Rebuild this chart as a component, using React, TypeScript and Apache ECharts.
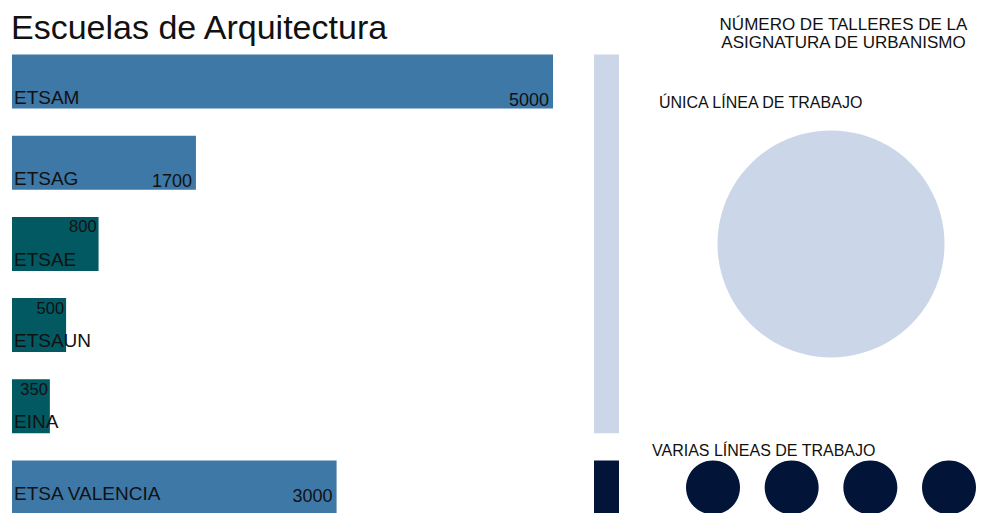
import React, { useEffect, useRef } from "react";
import * as echarts from "echarts";

// ---- data ----
const schools = ["ETSAM", "ETSAG", "ETSAE", "ETSAUN", "EINA", "ETSA VALENCIA"];
const students = [5000, 1700, 800, 500, 350, 3000];
const schoolTone = ["blue", "blue", "teal", "teal", "teal", "blue"];
const groupLabels = ["ÚNICA LÍNEA DE TRABAJO", "VARIAS LÍNEAS DE TRABAJO"];
const groupFirst = [0, 5];
const groupLast = [4, 5];
const groupTalleres = [1, 4];
const titleText = "Escuelas de Arquitectura";
const sideTitle = ["NÚMERO DE TALLERES DE LA", "ASIGNATURA DE URBANISMO"];

// ---- style ----
const BLUE = "#3e78a7";
const TEAL = "#025962";
const LIGHT = "#cbd7e8";
const NAVY = "#021539";
const FONT = "'Liberation Sans', Arial, Helvetica, sans-serif";
const groupColor = [LIGHT, NAVY];
const groupSymbolSize = [227, 54];
const labelLift = [0, 0, 0, 0, 0, 9];

export default function App() {
  const ref = useRef<HTMLDivElement>(null);
  useEffect(() => {
    if (!ref.current) return;
    const chart = echarts.init(ref.current, undefined, { renderer: "svg" });
    const maxT = Math.max(...groupTalleres);

    const barData = students.map((v, i) => ({
      value: v,
      itemStyle: { color: schoolTone[i] === "blue" ? BLUE : TEAL },
      label:
        schoolTone[i] === "blue"
          ? { position: "insideBottomRight", distance: 0, offset: [-4, -labelLift[i]], fontSize: 18 }
          : { position: "insideTopRight", distance: 1, offset: [-1, 0], fontSize: 16.5 },
    }));

    const nameData = students.map((v, i) => ({
      value: v,
      label: { offset: [0, -labelLift[i]] },
    }));

    const bracketData = groupFirst.map((f, g) => [0, f, groupLast[g], g]);

    const circleData: any[] = [];
    groupTalleres.forEach((t, g) => {
      const yMid = (groupFirst[g] + groupLast[g]) / 2;
      for (let k = 0; k < t; k++) {
        circleData.push({
          value: [(maxT - t) / 2 + k, yMid],
          symbolSize: groupSymbolSize[g],
          itemStyle: { color: groupColor[g], opacity: 1 },
        });
      }
    });

    const option: any = {
      animation: false,
      backgroundColor: "#ffffff",
      textStyle: { fontFamily: FONT },
      grid: [
        { left: 12, width: 541, top: 41, height: 487, outerBoundsMode: "none", containLabel: false },
        { left: 713, width: 236, top: 41, height: 487, outerBoundsMode: "none", containLabel: false },
      ],
      xAxis: [
        { type: "value", gridIndex: 0, min: 0, max: 5000, show: false },
        { type: "value", gridIndex: 1, min: 0, max: maxT - 1, show: false },
      ],
      yAxis: [
        { type: "category", gridIndex: 0, data: schools, inverse: true, show: false },
        { type: "category", gridIndex: 1, data: schools, inverse: true, show: false },
      ],
      series: [
        {
          type: "bar",
          name: "students",
          xAxisIndex: 0,
          yAxisIndex: 0,
          data: barData,
          barCategoryGap: "33.5%",
          barGap: "-100%",
          label: { show: true, formatter: "{c}", color: "#111", fontFamily: FONT },
          silent: true,
        },
        {
          type: "bar",
          name: "names",
          xAxisIndex: 0,
          yAxisIndex: 0,
          data: nameData,
          barCategoryGap: "33.5%",
          barGap: "-100%",
          itemStyle: { color: "rgba(0,0,0,0)" },
          label: {
            show: true,
            formatter: "{b}",
            position: "insideBottomLeft",
            distance: 2,
            color: "#111",
            fontSize: 19,
            fontFamily: FONT,
          },
          silent: true,
        },
        {
          type: "custom",
          name: "brackets",
          xAxisIndex: 0,
          yAxisIndex: 0,
          data: bracketData,
          encode: { x: 0, y: [1, 2] },
          renderItem: (params: any, api: any) => {
            const top = api.coord([0, api.value(1)]);
            const bot = api.coord([0, api.value(2)]);
            const band = api.size([0, 1])[1];
            const half = (band * 0.665) / 2;
            const cs = params.coordSys;
            const g = api.value(3);
            return {
              type: "rect",
              shape: { x: cs.x + cs.width + 41, y: top[1] - half, width: 25, height: bot[1] - top[1] + 2 * half },
              style: { fill: groupColor[g] },
            };
          },
          silent: true,
        },
        {
          type: "scatter",
          name: "talleres",
          xAxisIndex: 1,
          yAxisIndex: 1,
          symbol: "circle",
          data: circleData,
          itemStyle: { opacity: 1 },
          silent: true,
        },
      ],
      graphic: [
        {
          type: "text",
          style: { text: titleText, x: 11, y: 27, fontSize: 34, fontFamily: FONT, fill: "#111", verticalAlign: "middle" },
        },
        {
          type: "text",
          style: {
            text: sideTitle.join("\n"),
            x: 843.5,
            y: 15,
            fontSize: 17,
            lineHeight: 18.5,
            fontFamily: FONT,
            fill: "#111",
            align: "center",
            verticalAlign: "top",
          },
        },
        {
          type: "text",
          style: { text: groupLabels[0], x: 659, y: 102.5, fontSize: 16, fontFamily: FONT, fill: "#111", verticalAlign: "middle" },
        },
        {
          type: "text",
          style: { text: groupLabels[1], x: 652, y: 450, fontSize: 16, fontFamily: FONT, fill: "#111", verticalAlign: "middle" },
        },
      ],
    };
    chart.setOption(option);
    return () => chart.dispose();
  }, []);
  return (
    <div
      ref={ref}
      style={{ position: "absolute", left: 0, top: 0, width: 981, height: 513, background: "#fff" }}
    />
  );
}
